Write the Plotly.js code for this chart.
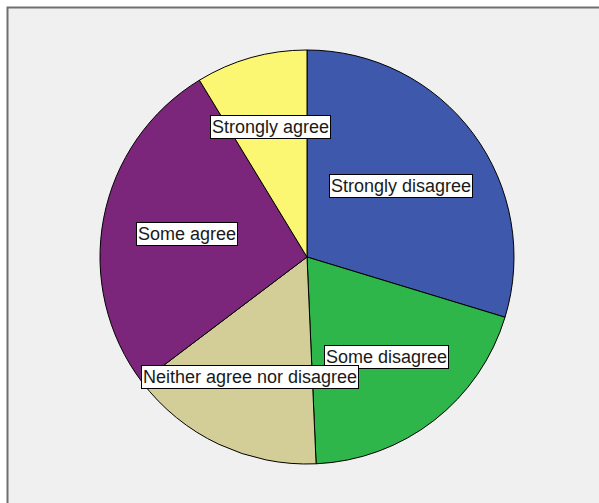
<!DOCTYPE html>
<html>
<head>
<meta charset="utf-8">
<script src="https://cdn.plot.ly/plotly-3.0.1.min.js"></script>
<style>html,body{margin:0;padding:0;background:#fff;}#chart{width:599px;height:503px;}</style>
</head>
<body>
<div id="chart"></div>
<script>
const categories = ["Strongly disagree", "Some disagree", "Neither agree nor disagree", "Some agree", "Strongly agree"];
const values = [29.7, 19.6, 15.4, 26.6, 8.7];
const colors = ["#3e58ac", "#2fb64a", "#d3ce97", "#7c267b", "#fbf773"];
const labelPos = [[401, 186], [386, 357], [250, 377], [187, 234], [270, 127]];

const W = 599, H = 503;
const cx = 307, cy = 257, r = 207;

const trace = {
  type: "pie",
  labels: categories,
  values: values,
  sort: false,
  direction: "clockwise",
  rotation: 0,
  textinfo: "none",
  hoverinfo: "label+percent",
  marker: { colors: colors, line: { color: "#000", width: 1 } },
  domain: { x: [(cx - r) / W, (cx + r) / W], y: [(H - cy - r) / H, (H - cy + r) / H] },
  showlegend: false
};

const annotations = categories.map((c, i) => ({
  text: c,
  xref: "paper", yref: "paper",
  x: labelPos[i][0] / W, y: 1 - labelPos[i][1] / H,
  xanchor: "center", yanchor: "middle",
  showarrow: false,
  bgcolor: "#ffffff",
  bordercolor: "#000000",
  borderwidth: 1,
  borderpad: 1,
  font: { family: "Liberation Sans, Arial, sans-serif", size: 18, color: "#1a1a1a" }
}));

const layout = {
  width: W, height: H,
  margin: { l: 0, r: 0, t: 0, b: 0 },
  paper_bgcolor: "#ffffff",
  plot_bgcolor: "#ffffff",
  showlegend: false,
  shapes: [{
    type: "rect", xref: "paper", yref: "paper", layer: "below",
    x0: 7.5 / W, x1: 1.05, y0: -0.05, y1: 1 - 7.5 / H,
    fillcolor: "#f0f0f0",
    line: { color: "#707070", width: 2 }
  }],
  annotations: annotations
};

Plotly.newPlot("chart", [trace], layout, { displayModeBar: false, staticPlot: true });
</script>
</body>
</html>
